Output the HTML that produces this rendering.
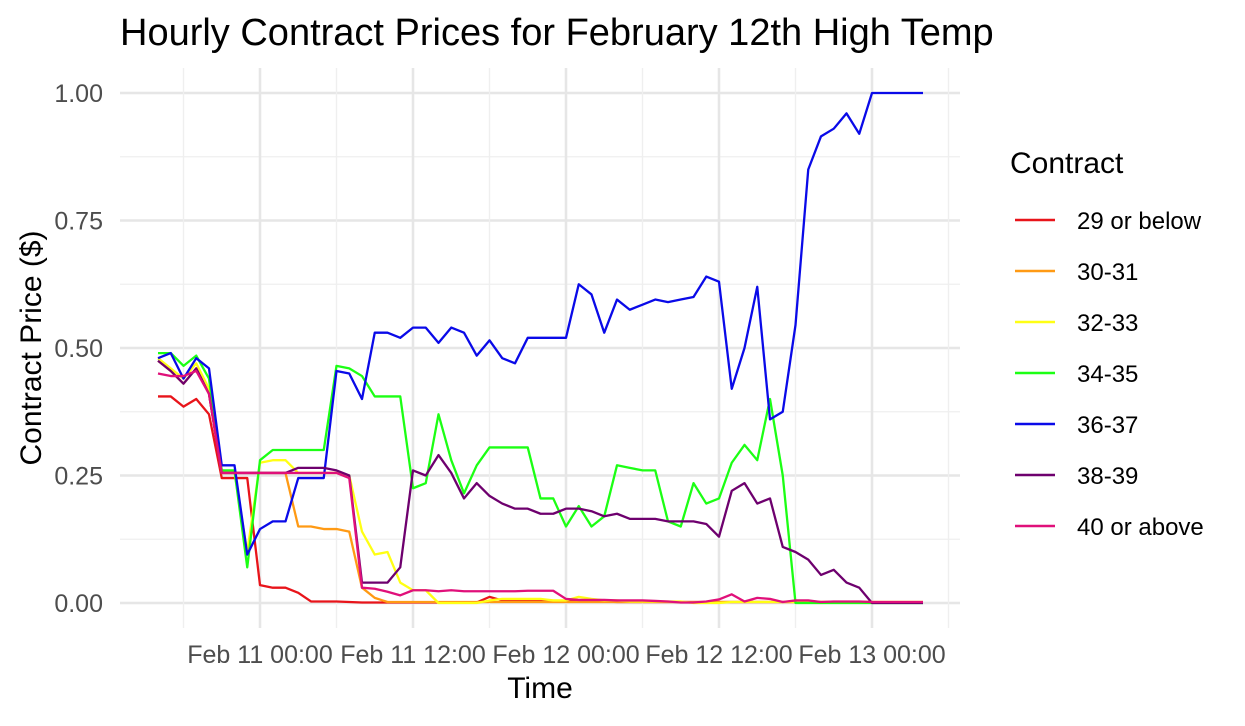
<!DOCTYPE html>
<html><head><meta charset="utf-8"><style>
body{margin:0;background:#fff;font-family:"Liberation Sans",sans-serif;}
</style></head><body>
<svg id="c" width="1245" height="721" font-family="Liberation Sans, sans-serif">
<text x="120" y="45" font-size="38" fill="#000">Hourly Contract Prices for February 12th High Temp</text>
<g id="grid"></g><g id="series"></g><g id="axes"></g><g id="legend"></g>
</svg>
<script>
const hours = [];for(let h=-8;h<=52;h++)hours.push(h);
const seriesNames = ["29 or below","30-31","32-33","34-35","36-37","38-39","40 or above"];
const seriesColors = ["#e8141a","#ff9a14","#ffff14","#1cff14","#0a0ae8","#6e006e","#e0107a"];
const red = [0.405,0.405,0.385,0.40,0.37,0.245,0.245,0.245,0.035,0.03,0.03,0.02,0.003,0.003,0.003,0.002,0.001,0.001,0.001,0.001,0.001,0.001,0.001,0.001,0.001,0.001,0.012,0.005,0.005,0.005,0.004,0.004,0.004,0.003,0.003,0.003,0.002,0.002,0.002,0.002,0.002,0.002,0.002,0.002,0.002,0.002,0.002,0.002,0.002,0.002,0.002,0.002,0.002,0.002,0.002,0.002,0.001,0.001,0.001,0.001,0.001];
const orange = [0.475,0.455,0.43,0.46,0.41,0.255,0.255,0.255,0.255,0.255,0.255,0.15,0.15,0.145,0.145,0.14,0.03,0.01,0.002,0.002,0.002,0.002,0.002,0.002,0.002,0.002,0.002,0.002,0.002,0.002,0.002,0.002,0.002,0.002,0.002,0.002,0.002,0.002,0.002,0.002,0.002,0.002,0.002,0.002,0.002,0.002,0.002,0.002,0.002,0.002,0.002,0.002,0.002,0.002,0.002,0.002,0.002,0.002,0.002,0.002,0.002];
const yellow = [0.48,0.46,0.44,0.47,0.42,0.255,0.255,0.10,0.275,0.28,0.28,0.255,0.255,0.255,0.255,0.25,0.14,0.095,0.10,0.04,0.025,0.025,0.0,0.0,0.0,0.0,0.005,0.008,0.008,0.008,0.008,0.005,0.005,0.012,0.008,0.005,0.005,0.003,0.003,0.003,0.003,0.003,0.0,0.0,0.0,0.002,0.002,0.002,0.002,0.002,0.002,0.002,0.002,0.002,0.002,0.002,0.002,0.002,0.002,0.002,0.002];
const green = [0.49,0.49,0.465,0.485,0.44,0.26,0.26,0.07,0.28,0.30,0.30,0.30,0.30,0.30,0.465,0.46,0.445,0.405,0.405,0.405,0.225,0.235,0.37,0.28,0.215,0.27,0.305,0.305,0.305,0.305,0.205,0.205,0.15,0.19,0.15,0.17,0.27,0.265,0.26,0.26,0.16,0.15,0.235,0.195,0.205,0.275,0.31,0.28,0.40,0.25,0.0,0.0,0.0,0.0,0.0,0.0,0.0,0.0,0.0,0.0,0.0];
const blue = [0.48,0.49,0.44,0.48,0.46,0.27,0.27,0.095,0.145,0.16,0.16,0.245,0.245,0.245,0.455,0.45,0.40,0.53,0.53,0.52,0.54,0.54,0.51,0.54,0.53,0.485,0.515,0.48,0.47,0.52,0.52,0.52,0.52,0.625,0.605,0.53,0.595,0.575,0.585,0.595,0.59,0.595,0.60,0.64,0.63,0.42,0.50,0.62,0.36,0.375,0.545,0.85,0.915,0.93,0.96,0.92,1.0,1.0,1.0,1.0,1.0];
const purple = [0.475,0.455,0.43,0.46,0.41,0.255,0.255,0.255,0.255,0.255,0.255,0.265,0.265,0.265,0.26,0.25,0.04,0.04,0.04,0.07,0.26,0.25,0.29,0.255,0.205,0.235,0.21,0.195,0.185,0.185,0.175,0.175,0.185,0.185,0.18,0.17,0.175,0.165,0.165,0.165,0.16,0.16,0.16,0.155,0.13,0.22,0.235,0.195,0.205,0.11,0.10,0.085,0.055,0.065,0.04,0.03,0.0,0.0,0.0,0.0,0.0];
const pink = [0.45,0.445,0.445,0.455,0.41,0.255,0.255,0.255,0.255,0.255,0.255,0.255,0.255,0.255,0.255,0.245,0.03,0.028,0.022,0.015,0.025,0.025,0.023,0.025,0.023,0.023,0.023,0.023,0.023,0.024,0.024,0.024,0.008,0.006,0.006,0.006,0.005,0.005,0.005,0.004,0.003,0.001,0.001,0.003,0.007,0.017,0.003,0.01,0.008,0.002,0.005,0.005,0.002,0.003,0.003,0.003,0.002,0.002,0.002,0.002,0.002];
const yTicks = [0,0.25,0.5,0.75,1.0];
const yTickLabels = ["0.00","0.25","0.50","0.75","1.00"];
const xTicks = [0,12,24,36,48];
const xTickLabels = ["Feb 11 00:00","Feb 11 12:00","Feb 12 00:00","Feb 12 12:00","Feb 13 00:00"];
const allSeries = [red,orange,yellow,green,blue,purple,pink];

const NS="http://www.w3.org/2000/svg";
const X = h => 260 + h*12.75;
const Y = v => 603 - v*510;
function mk(tag,attrs,parent){const e=document.createElementNS(NS,tag);for(const k in attrs)e.setAttribute(k,attrs[k]);parent.appendChild(e);return e;}
const grid=document.getElementById('grid'), axes=document.getElementById('axes'), ser=document.getElementById('series'), leg=document.getElementById('legend');
const L=120,R=960;
for(let i=0;i<yTicks.length;i++){
  const y=Y(yTicks[i]);
  const g=mk('line',{x1:L,x2:R,y1:y,y2:y,stroke:'#e6e6e6','stroke-width':2.5},grid);
  
  
  if(i<yTicks.length-1){const ym=Y((yTicks[i]+yTicks[i+1])/2);
    const m=mk('line',{x1:L,x2:R,y1:ym,y2:ym,stroke:'#efefef','stroke-width':1.3},grid);
    
    }
  const t=mk('text',{x:103,y:y+9,'text-anchor':'end','font-size':25,fill:'#4d4d4d'},axes);
  t.textContent=yTickLabels[i];
  
  
}
for(let i=0;i<xTicks.length;i++){
  const x=X(xTicks[i]);
  const g=mk('line',{x1:x,x2:x,y1:68,y2:628,stroke:'#e6e6e6','stroke-width':2.5},grid);
  
  
  const t=mk('text',{x:x,y:663,'text-anchor':'middle','font-size':25,fill:'#4d4d4d'},axes);
  t.textContent=xTickLabels[i];
  
  
}
for(const h of [-6,6,18,30,42,54]){const x=X(h);
  const m=mk('line',{x1:x,x2:x,y1:68,y2:628,stroke:'#efefef','stroke-width':1.3},grid);
  
  }
allSeries.forEach((s,i)=>{
  const p=mk('polyline',{points:s.map((v,j)=>X(hours[j])+','+Y(v)).join(' '),fill:'none',stroke:seriesColors[i],'stroke-width':2.3,'stroke-linejoin':'round'},ser);
  
  
});
const xt=mk('text',{x:540,y:698,'text-anchor':'middle','font-size':30,fill:'#000'},axes);xt.textContent='Time';


const yt=mk('text',{x:0,y:0,'text-anchor':'middle','font-size':30,fill:'#000',transform:'translate(41,348) rotate(-90)'},axes);yt.textContent='Contract Price ($)';


const lt=mk('text',{x:1010,y:173,'font-size':30,fill:'#000'},leg);lt.textContent='Contract';


seriesNames.forEach((n,i)=>{
  const y=220+i*51;
  const g=mk('g',{},leg);
  
  
  mk('line',{x1:1015,x2:1055,y1:y,y2:y,stroke:seriesColors[i],'stroke-width':2.5},g);
  const t=mk('text',{x:1077,y:y+9,'font-size':24,fill:'#000'},g);t.textContent=n;
});
</script>
</body></html>
